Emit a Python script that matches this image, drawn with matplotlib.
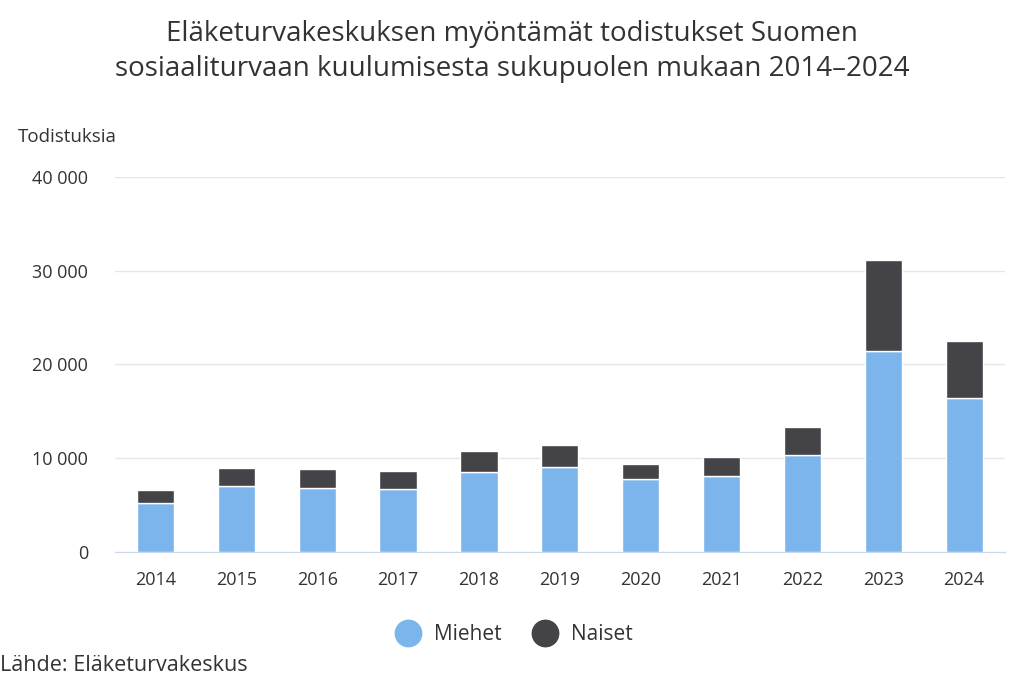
import matplotlib.pyplot as plt
from matplotlib.ticker import FuncFormatter
from matplotlib.lines import Line2D

years = ['2014', '2015', '2016', '2017', '2018', '2019', '2020', '2021', '2022', '2023', '2024']
miehet = [5250, 7030, 6850, 6710, 8520, 9080, 7770, 8130, 10330, 21440, 16370]
naiset = [1350, 1950, 1950, 1880, 2270, 2280, 1600, 1950, 3010, 9730, 6070]

plt.rcParams['font.family'] = ['Open Sans', 'DejaVu Sans']
txt = '#333333'
c_blue = '#7cb5ec'
c_dark = '#434348'

fig = plt.figure(figsize=(10.24, 6.83), dpi=100)
ax = fig.add_axes([0.1123, 0.1918, 0.8687, 0.5495])

x = range(len(years))
ax.bar(x, miehet, width=0.46, color=c_blue, edgecolor='white', linewidth=1, zorder=3)
ax.bar(x, naiset, bottom=miehet, width=0.46, color=c_dark, edgecolor='white', linewidth=1, zorder=3)

ax.set_xlim(-0.5, 10.5)
ax.set_ylim(0, 40000)
ax.set_yticks([0, 10000, 20000, 30000, 40000])
ax.yaxis.set_major_formatter(FuncFormatter(lambda v, p: '{:,.0f}'.format(v).replace(',', ' ')))
ax.set_xticks(list(x))
ax.set_xticklabels(years)
ax.grid(axis='y', color='#e6e6e6', linewidth=1, zorder=0)
for s in ['top', 'right', 'left']:
    ax.spines[s].set_visible(False)
ax.spines['bottom'].set_color('#ccd6eb')
ax.tick_params(axis='both', length=0, labelsize=13, colors=txt)
ax.tick_params(axis='x', pad=14)
ax.tick_params(axis='y', pad=19.5)

fig.text(0.5, 0.925, 'Eläketurvakeskuksen myöntämät todistukset Suomen\nsosiaaliturvaan kuulumisesta sukupuolen mukaan 2014–2024',
         ha='center', va='center', fontsize=20, color=txt, linespacing=1.33)
fig.text(0.017, 0.799, 'Todistuksia', ha='left', va='center', fontsize=13.5, color=txt)
fig.text(0.0, 0.025, 'Lähde: Eläketurvakeskus', ha='left', va='center', fontsize=15.5, color=txt)

handles = [Line2D([], [], marker='o', linestyle='', markersize=19, color=c_blue),
           Line2D([], [], marker='o', linestyle='', markersize=19, color=c_dark)]
fig.legend(handles, ['Miehet', 'Naiset'], loc='center', bbox_to_anchor=(0.498, 0.071),
           ncol=2, frameon=False, fontsize=15, labelcolor=txt, handletextpad=0.25,
           columnspacing=1.1)

fig.savefig('out.png', dpi=100)
